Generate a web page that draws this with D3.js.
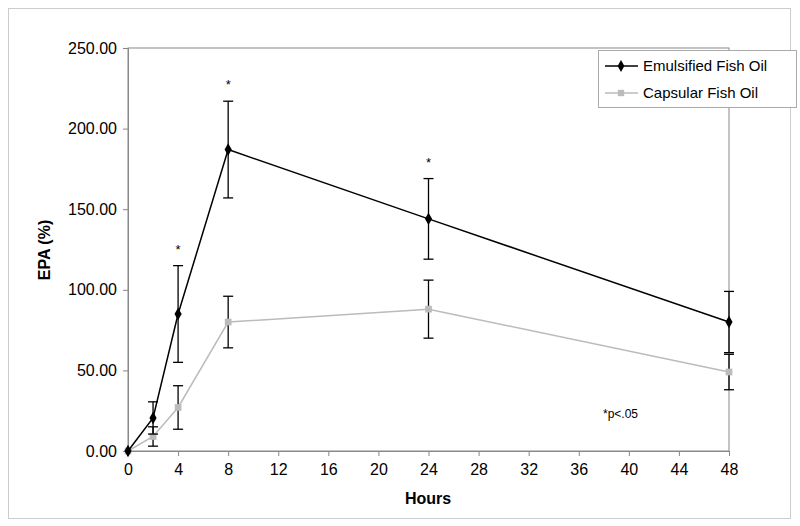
<!DOCTYPE html>
<html><head><meta charset="utf-8">
<script src="https://cdn.jsdelivr.net/npm/d3@7"></script>
<style>body{margin:0;background:#fff}text{font-family:Arial,"Liberation Sans",sans-serif}</style>
</head><body><svg id="c" width="800" height="526"></svg>
<script>
const hours = [0, 2, 4, 8, 24, 48];
const emulsified = [0, 20.5, 85, 187, 144, 80];
const emulsifiedErr = [0, 10, 30, 30, 25, 19];
const capsular = [0, 9, 27, 80, 88, 49];
const capsularErr = [0, 6, 13.5, 16, 18, 11];
const starHours = [4, 8, 24];
const xTicks = d3.range(0, 49, 4);
const yTicks = [0, 50, 100, 150, 200, 250];

const svg = d3.select("#c");
svg.append("rect").attr("x", 8.5).attr("y", 8.5).attr("width", 782).attr("height", 510)
  .attr("fill", "none").attr("stroke", "#ccc");

const x = d3.scaleLinear().domain([0, 48]).range([128, 729]);
const y = d3.scaleLinear().domain([0, 250]).range([451, 48]);

svg.append("rect").attr("x", 128).attr("y", 48).attr("width", 601).attr("height", 403)
  .attr("fill", "none").attr("stroke", "#888");

const xa = svg.append("g").attr("transform", "translate(0,451)")
  .call(d3.axisBottom(x).tickValues(xTicks).tickSize(5).tickPadding(8));
const ya = svg.append("g").attr("transform", "translate(128,0)")
  .call(d3.axisLeft(y).tickValues(yTicks).tickSize(5).tickPadding(6).tickFormat(d3.format(".2f")));
[xa, ya].forEach(a => {
  a.select(".domain").attr("stroke", "#888");
  a.selectAll("line").attr("stroke", "#888");
  a.selectAll("text").attr("font-size", 16).attr("fill", "#000");
});

svg.append("text").attr("x", 428).attr("y", 504).attr("text-anchor", "middle")
  .attr("font-size", 16).attr("font-weight", "bold").text("Hours");
svg.append("text").attr("transform", "translate(50,250) rotate(-90)").attr("text-anchor", "middle")
  .attr("font-size", 16).attr("font-weight", "bold").text("EPA (%)");

function series(vals, errs, color, shape) {
  const pts = hours.map((h, i) => ({ h, v: vals[i], e: errs[i] }));
  svg.append("path").datum(pts).attr("fill", "none").attr("stroke", color).attr("stroke-width", 1.5)
    .attr("d", d3.line().x(d => x(d.h)).y(d => y(d.v)));
  const g = svg.append("g");
  pts.filter(d => d.e > 0).forEach(d => {
    g.append("line").attr("x1", x(d.h)).attr("x2", x(d.h)).attr("y1", y(d.v - d.e)).attr("y2", y(d.v + d.e))
      .attr("stroke", "#000").attr("stroke-width", 1.3);
    [d.v - d.e, d.v + d.e].forEach(t => g.append("line").attr("x1", x(d.h) - 5).attr("x2", x(d.h) + 5)
      .attr("y1", y(t)).attr("y2", y(t)).attr("stroke", "#000").attr("stroke-width", 1.3));
  });
  svg.append("g").selectAll("path").data(pts).join("path")
    .attr("transform", d => `translate(${x(d.h)},${y(d.v)})`)
    .attr("d", d3.symbol().type(shape).size(shape === d3.symbolDiamond ? 45 : 45)).attr("fill", color);
}
series(capsular, capsularErr, "#bbb", d3.symbolSquare);
series(emulsified, emulsifiedErr, "#000", d3.symbolDiamond);

svg.append("g").selectAll("text").data(starHours).join("text")
  .attr("x", d => x(d)).attr("y", d => y(emulsified[hours.indexOf(d)] + emulsifiedErr[hours.indexOf(d)]) - 12)
  .attr("text-anchor", "middle").attr("font-size", 13).text("*");

svg.append("text").attr("x", 603).attr("y", 418).attr("font-size", 12).text("*p<.05");

const lg = svg.append("g");
lg.append("rect").attr("x", 598.5).attr("y", 50.5).attr("width", 198).attr("height", 57)
  .attr("fill", "#fff").attr("stroke", "#aaa");
[["Emulsified Fish Oil", "#000", d3.symbolDiamond], ["Capsular Fish Oil", "#bbb", d3.symbolSquare]].forEach((s, i) => {
  const yy = 66 + i * 27;
  lg.append("line").attr("x1", 605).attr("x2", 638).attr("y1", yy).attr("y2", yy).attr("stroke", s[1]).attr("stroke-width", 1.5);
  lg.append("path").attr("transform", `translate(621,${yy})`).attr("d", d3.symbol().type(s[2]).size(40)).attr("fill", s[1]);
  lg.append("text").attr("x", 643).attr("y", yy + 5).attr("font-size", 15).text(s[0]);
});
</script></body></html>
